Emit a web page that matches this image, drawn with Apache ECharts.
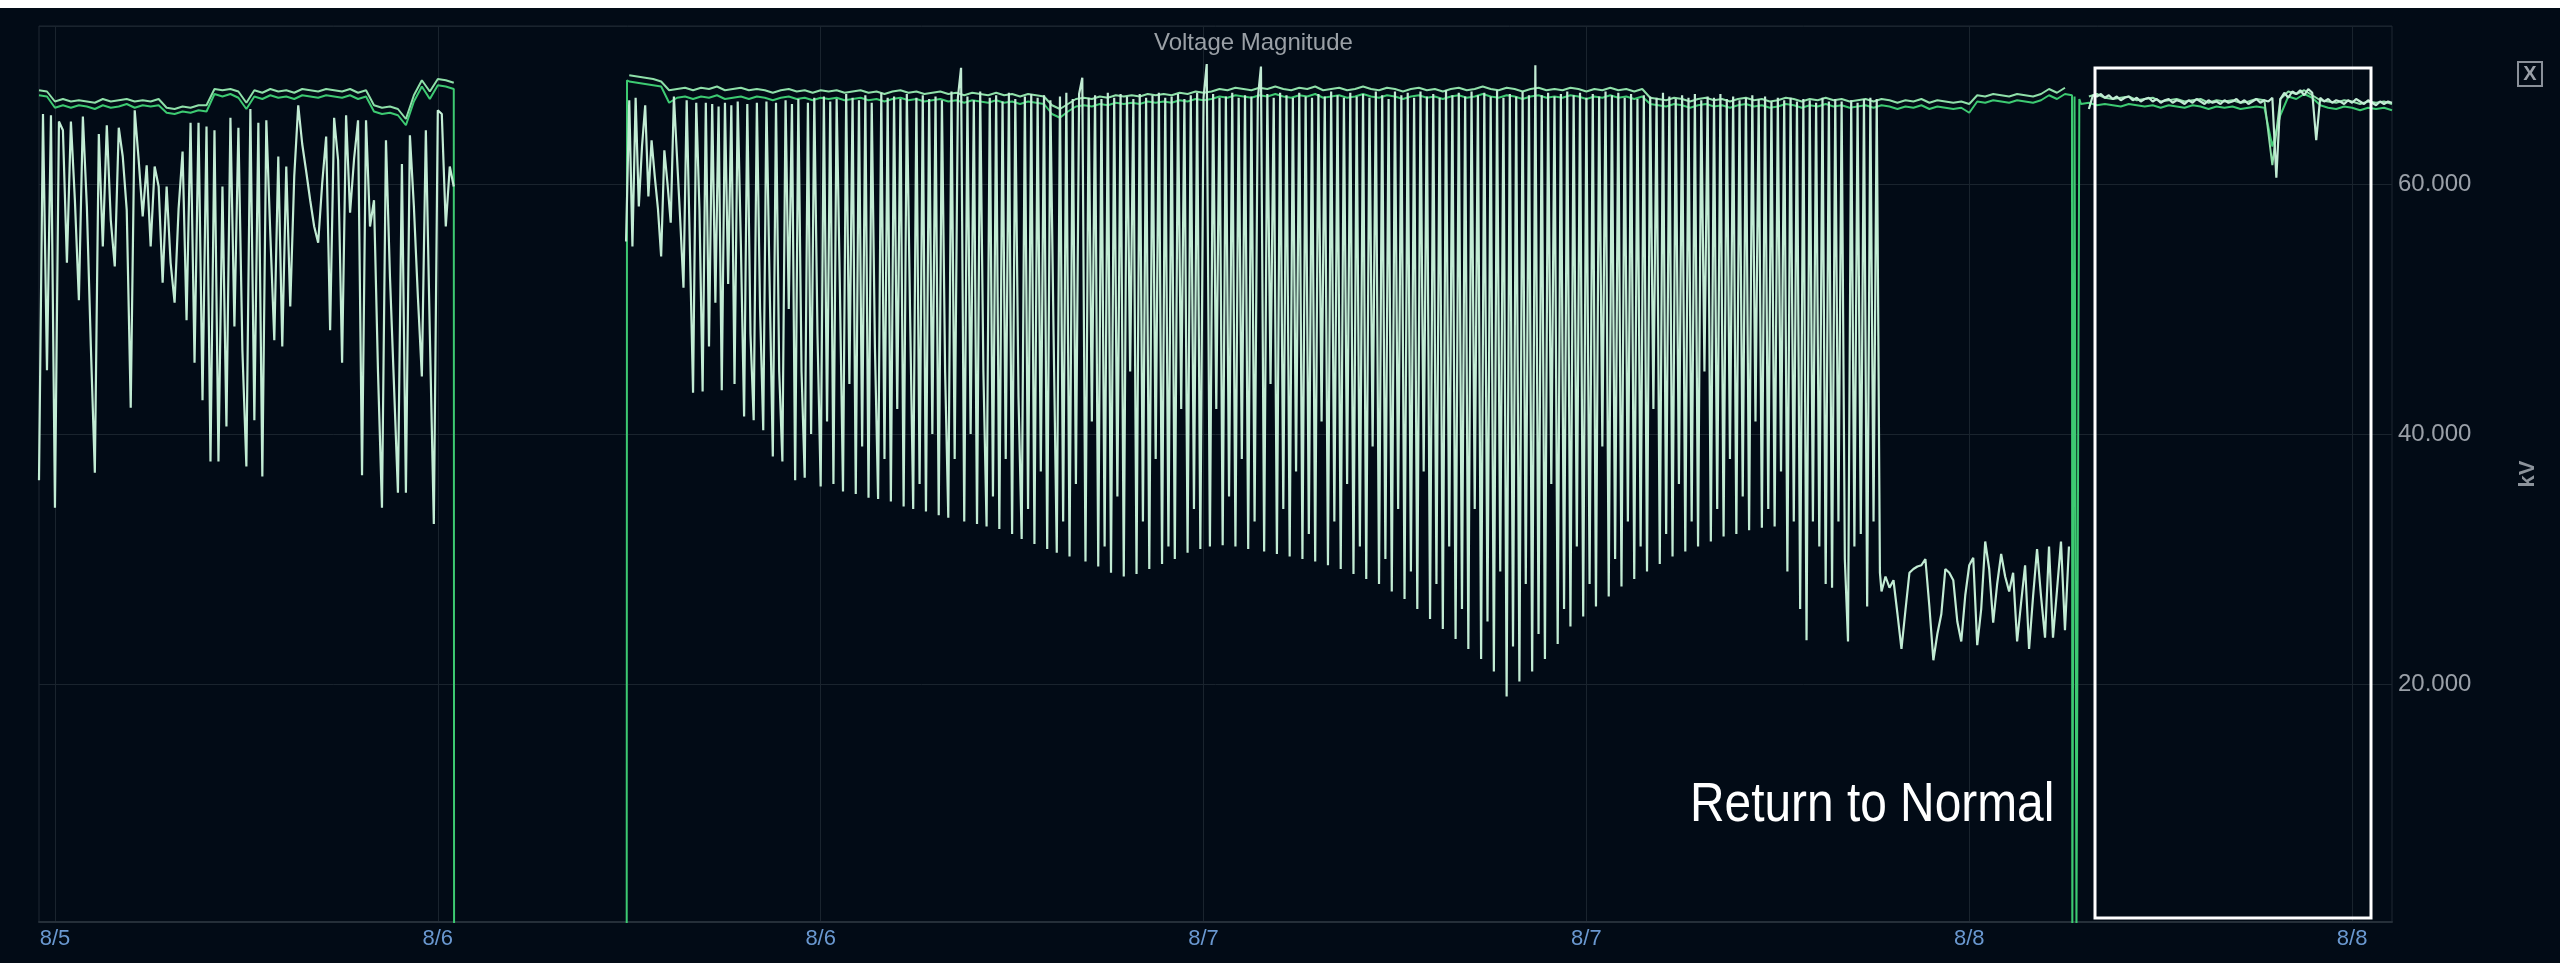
<!DOCTYPE html>
<html>
<head>
<meta charset="utf-8">
<title>Voltage Magnitude</title>
<script src="https://cdn.jsdelivr.net/npm/echarts@6/dist/echarts.min.js"></script>
<style>
html, body { margin: 0; padding: 0; background: #ffffff; }
#main { position: absolute; left: 0; top: 8px; width: 2560px; height: 955px; background: #020b16; }
</style>
</head>
<body>
<div id="main"></div>
<script>
// x is hours since 8/5 00:00; data starts 8/5 11:30
var startHour = 11.5;
var stepAB = 15; // minutes

// x axis ticks every 12 h (8/5 12:00 ... 8/8 12:00)
var xTickHours = [12, 24, 36, 48, 60, 72, 84];

// phase A (bright green, lower band line), null = outage
var phaseA = [
67.1,67.0,66.1,66.3,66.1,66.3,66.2,66.0,66.3,66.1,
66.2,66.4,66.1,66.3,66.2,66.3,65.7,65.6,65.8,65.7,
65.9,65.8,67.2,67.0,67.2,66.9,66.0,67.0,66.8,67.1,
66.9,67.0,66.8,67.1,67.0,66.9,67.1,67.0,66.9,67.1,
66.8,67.0,65.8,65.6,65.7,65.5,64.7,66.6,67.8,66.8,
67.9,67.8,67.6,null,null,null,null,null,null,null,
null,null,null,null,null,null,null,null,null,null,
null,null,null,null,68.2,68.1,68.0,67.9,67.8,66.5,
66.9,67.0,66.8,67.0,66.9,67.1,66.8,66.9,67.0,66.8,
67.0,66.9,66.7,66.9,67.0,66.8,66.9,66.7,66.9,66.8,
66.9,66.7,66.8,66.9,66.7,66.8,66.6,66.8,66.9,66.7,
66.8,66.6,66.7,66.8,66.6,66.7,66.5,66.7,66.6,66.5,
66.7,66.5,66.6,66.4,66.6,66.5,66.4,65.6,65.3,65.8,
66.2,66.3,66.2,66.4,66.3,66.5,66.4,66.5,66.4,66.6,
66.5,66.6,66.5,66.7,66.6,66.8,66.7,66.8,67.0,66.9,
67.1,67.0,66.9,67.1,67.0,67.2,67.0,66.9,67.1,67.0,
67.2,66.9,67.0,67.1,66.9,67.0,67.2,67.0,66.9,67.1,
67.0,66.8,67.0,67.1,66.9,67.0,66.8,67.0,67.1,66.9,
67.0,67.2,67.0,66.9,67.1,67.0,66.8,67.0,67.1,66.9,
67.0,66.9,67.1,67.0,66.8,67.0,66.9,67.1,66.9,67.0,
66.8,67.0,66.4,66.3,66.2,66.4,66.3,66.1,66.3,66.4,
66.2,66.3,66.1,66.3,66.4,66.2,66.3,66.1,66.2,66.4,
66.3,66.1,66.3,66.2,66.4,66.2,66.3,66.1,66.2,66.3,
66.1,66.3,66.2,66.0,66.2,66.1,66.3,66.0,66.2,66.1,
66.0,66.1,65.7,66.6,66.5,66.7,66.6,66.5,66.7,66.6,
66.5,66.7,67.1,66.8,67.2,0,66.4,66.5,66.3,66.4,
66.3,66.2,66.4,66.3,66.2,66.3,66.1,66.3,66.2,66.1,
66.3,66.2,66.0,66.2,66.1,66.2,66.0,66.1,66.2,66.1,
63.0,65.5,67.0,66.8,67.2,66.9,66.3,66.1,66.0,66.2,
66.1,65.9,66.1,66.0,66.1,65.9
];
// phase A outage edges: [hours after start, kV]
var phaseAEdges = [
	[13.01, 0], [18.42, 0], [18.43, 68.3],
	[63.72, 67.1], [63.73, 0], [63.80, 67.0], [63.86, 0], [63.95, 66.8]
];

// phase B (light green, upper band line)
var phaseB = [
67.5,67.4,66.6,66.8,66.6,66.7,66.6,66.5,66.8,66.6,
66.7,66.8,66.6,66.7,66.6,66.8,66.1,66.0,66.2,66.1,
66.3,66.3,67.6,67.5,67.6,67.4,66.5,67.5,67.3,67.6,
67.4,67.5,67.3,67.6,67.5,67.4,67.6,67.5,67.4,67.6,
67.3,67.5,66.3,66.1,66.2,66.0,65.2,67.1,68.3,67.4,
68.4,68.3,68.1,null,null,null,null,null,null,null,
null,null,null,null,null,null,null,null,null,null,
null,null,null,null,68.7,68.6,68.5,68.4,68.2,67.5,
67.6,67.7,67.5,67.7,67.6,67.8,67.5,67.6,67.7,67.5,
67.6,67.5,67.3,67.5,67.6,67.4,67.5,67.3,67.5,67.4,
67.5,67.3,67.4,67.5,67.3,67.4,67.2,67.4,67.5,67.3,
67.4,67.2,67.3,67.4,67.2,67.3,67.1,67.3,67.2,67.1,
67.3,67.1,67.2,67.0,67.2,67.1,67.0,66.3,66.0,66.4,
66.8,66.9,66.8,67.0,66.9,67.1,67.0,67.1,67.0,67.2,
67.1,67.2,67.1,67.3,67.2,67.4,67.3,67.4,67.6,67.5,
67.7,67.6,67.5,67.7,67.6,67.8,67.6,67.5,67.7,67.6,
67.8,67.5,67.6,67.7,67.5,67.6,67.8,67.6,67.5,67.7,
67.6,67.4,67.6,67.7,67.5,67.6,67.4,67.6,67.7,67.5,
67.6,67.8,67.6,67.5,67.7,67.6,67.4,67.6,67.7,67.5,
67.6,67.5,67.7,67.6,67.4,67.6,67.5,67.7,67.5,67.6,
67.4,67.6,66.9,66.8,66.7,66.9,66.8,66.6,66.8,66.9,
66.7,66.8,66.6,66.8,66.9,66.7,66.8,66.6,66.7,66.9,
66.8,66.6,66.8,66.7,66.9,66.7,66.8,66.6,66.7,66.8,
66.6,66.8,66.7,66.5,66.7,66.6,66.8,66.5,66.7,66.6,
66.5,66.6,66.4,67.1,67.0,67.2,67.1,67.0,67.2,67.1,
67.0,67.2,67.6,67.3,67.7,null,null,67.0,67.2,66.9,
66.8,66.9,67.0,66.7,66.8,66.9,66.6,66.7,66.8,66.6,
66.7,66.8,66.5,66.7,66.6,66.7,66.5,66.6,66.8,66.7,
61.5,66.8,67.4,67.2,67.5,67.1,66.7,66.6,66.5,66.7,
66.6,66.4,66.6,66.5,66.6,66.4
];

// phase C (mint) in four pieces: 8/5 11:30 every 7.5 min
var phaseC1 = [
36.3,65.6,45.1,65.5,34.1,65.0,64.3,53.7,65.0,58.7,
50.7,65.4,58.2,47.0,36.9,64.0,55.0,64.7,57.1,53.4,
64.5,62.2,57.9,42.1,65.9,61.9,57.4,61.5,55.0,61.4,
59.8,52.1,59.8,53.7,50.5,58.0,62.6,49.1,64.9,45.7,
64.9,42.7,64.6,37.8,64.3,37.8,59.8,40.6,65.3,48.6,
64.5,46.7,37.4,66.0,41.1,64.9,36.6,65.1,56.0,47.5,
62.2,47.0,61.4,50.2,60.6,66.3,63.2,61.0,58.7,56.6,
55.3,60.0,63.8,48.3,65.3,61.9,45.7,65.5,57.7,62.0,
65.1,36.7,65.1,56.6,58.7,45.0,34.1,63.5,52.6,44.0,
35.3,61.6,35.3,63.9,58.2,51.0,44.6,64.3,48.0,32.8,
65.9,65.6,56.6,61.4,59.8
];
// 8/6 05:54 every 6 min (heavy oscillation)
var phaseC2 = [
55.4,66.7,55.0,66.9,58.2,63.0,66.3,59.0,63.5,60.6,
58.0,54.2,62.7,60.0,56.9,67.0,62.0,57.0,51.7,66.7,
55.0,43.3,66.5,58.0,43.4,66.5,47.0,66.4,50.5,66.2,
43.5,66.5,52.0,66.3,44.0,66.6,55.0,41.4,66.4,48.0,
41.1,66.5,50.0,40.3,66.6,52.0,38.2,66.5,45.0,37.8,
66.7,50.0,66.4,36.3,66.8,45.0,36.5,66.5,40.0,66.9,
48.0,35.8,67.0,41.0,66.6,36.0,66.8,52.0,35.4,67.2,
44.0,66.9,35.2,66.7,39.0,67.1,34.9,66.5,47.0,34.8,
67.3,38.0,66.9,34.6,67.0,42.0,66.8,34.2,67.2,50.0,
34.0,66.9,36.0,67.1,33.8,66.8,40.0,67.0,33.5,66.7,
45.0,33.3,67.4,38.0,66.9,69.3,33.0,67.0,40.0,66.7,
32.8,67.4,45.0,32.6,66.9,35.0,67.1,32.4,66.6,38.0,
67.3,32.0,66.8,43.0,31.6,67.0,34.0,67.2,31.2,66.9,
37.0,67.1,30.8,66.7,48.0,30.5,67.0,33.0,67.3,30.2,
66.8,36.0,67.2,68.5,29.8,66.9,41.0,67.1,29.4,66.8,
31.0,67.3,28.9,66.9,35.0,67.2,28.6,67.0,45.0,66.8,
28.8,67.2,33.0,66.9,29.2,67.1,38.0,67.3,29.6,66.9,
31.0,67.0,30.0,67.2,42.0,66.8,30.5,67.1,34.0,67.3,
30.8,66.9,69.6,31.0,67.2,42.0,66.9,31.1,67.0,35.0,
67.3,31.0,66.9,38.0,67.1,30.8,67.0,33.0,66.8,69.4,
30.6,67.2,44.0,66.9,30.4,67.3,34.0,67.1,30.2,66.9,
37.0,67.3,30.0,67.0,32.0,66.9,29.8,67.2,41.0,67.0,
29.5,67.4,33.0,67.1,29.2,66.9,36.0,67.3,28.8,67.0,
31.0,67.2,28.4,66.9,39.0,67.4,28.0,67.1,30.0,66.8,
27.4,67.4,34.0,67.1,26.8,67.3,29.0,66.9,26.0,67.4,
37.0,67.0,25.2,67.2,28.0,66.9,24.4,67.5,31.0,67.1,
23.6,67.3,26.0,67.0,22.8,67.4,34.0,67.1,22.0,67.3,
25.0,67.0,21.0,67.5,29.0,66.9,19.0,67.2,23.0,67.0,
20.2,67.4,28.0,67.1,21.0,69.5,24.0,67.1,22.0,67.3,
36.0,67.0,23.2,67.2,26.0,67.4,24.6,67.1,31.0,67.3,
25.4,66.9,28.0,67.2,26.2,67.0,39.0,67.4,27.0,67.1,
30.0,67.3,27.8,66.9,33.0,67.2,28.4,66.8,31.0,67.1,
29.0,67.0,42.0,66.9,29.6,67.3,32.0,67.0,30.2,66.8,
36.0,67.1,30.6,66.9,33.0,67.2,31.0,66.7,45.0,67.0,
31.4,66.9,34.0,67.2,31.8,66.8,38.0,67.0,32.0,66.7,
35.0,66.9,32.3,67.1,41.0,66.8,32.5,67.0,34.0,66.6,
32.6,66.9,37.0,66.7,29.0,66.9,33.0,66.6,26.0,66.8,
23.5,66.7,33.0,66.5,31.0,66.9,28.0,66.6,27.7,66.8,
33.0,66.6,30.0,23.4,66.7,31.0,66.5,32.0,66.8,26.2,
66.9,33.0,66.8,28.9
];
// 8/7 21:15 every 7.5 min (low level)
var phaseC3 = [
27.4,28.6,27.7,28.3,25.6,22.8,25.9,28.9,
29.2,29.4,29.5,30.0,26.2,21.9,24.0,25.6,29.2,28.9,
28.3,25.0,23.4,27.1,29.5,30.1,23.1,26.0,31.4,29.2,
24.9,28.0,30.4,28.6,27.4,28.9,23.4,26.5,29.5,22.8,
27.0,30.8,27.0,23.7,31.0,23.7,27.5,31.4,24.3,31.0
];
// 8/8 03:45 every 7.5 min (returned to normal)
var phaseC4 = [
66.0,67.1,67.0,67.2,66.9,67.1,
66.8,67.0,66.7,66.9,67.0,66.7,66.9,66.6,66.8,66.9,
66.6,66.8,66.5,66.7,66.8,66.5,66.7,66.6,66.4,66.7,
66.5,66.8,66.6,66.4,66.7,66.5,66.6,66.4,66.7,66.5,
66.6,66.8,66.5,66.7,66.4,66.6,66.8,66.5,66.7,66.6,
66.9,60.5,66.8,67.3,66.9,67.4,67.2,67.5,67.1,67.6,
67.3,63.5,66.9,66.6,66.8,66.5,66.7,66.6,66.4,66.7,
66.5,66.8,66.6,66.4,66.7,66.5,66.3,66.6,66.4,66.6,
66.5
];

// y axis range (kV)
var yMin = 0.96;
var yMax = 72.64;

// values -> [hour, value]; offset = hours after data start, step in minutes
function toSeries(values, offset, stepMin) {
	var out = [];
	for (var i = 0; i < values.length; i++) {
		out.push([startHour + offset + i * stepMin / 60, values[i]]);
	}
	return out;
}

// A series: regular samples plus the outage edges, sorted by time
var dataA = toSeries(phaseA, 0, stepAB);
for (var k = 0; k < phaseAEdges.length; k++) {
	dataA.push([startHour + phaseAEdges[k][0], phaseAEdges[k][1]]);
}
dataA.sort(function (a, b) { return a[0] - b[0]; });

// C series: pieces joined, null where there is no data
var dataC = [].concat(
	toSeries(phaseC1, 0, 7.5),
	[[startHour + 15, null]],
	toSeries(phaseC2, 18.4, 6),
	toSeries(phaseC3, 57.75, 7.5),
	[[startHour + 64, null]],
	toSeries(phaseC4, 64.25, 7.5)
);

var myChart = echarts.init(document.getElementById('main'));
myChart.setOption({
	backgroundColor: '#020b16',
	animation: false,
	title: {
		text: 'Voltage Magnitude',
		left: 1154,
		top: 23,
		padding: 0,
		textStyle: { color: '#9aa0a6', fontSize: 24, fontWeight: 'normal', fontFamily: 'Liberation Sans' }
	},
	grid: {
		left: 39, right: 168, top: 18, bottom: 41,
		show: true,
		borderColor: '#1f2932',
		borderWidth: 1
	},
	xAxis: {
		type: 'value',
		min: startHour,
		max: startHour + 73.75,
		axisLine: { show: true, lineStyle: { color: '#252f39', width: 2 } },
		axisTick: { show: false, customValues: xTickHours },
		splitLine: { show: true, lineStyle: { color: '#1a242e', width: 1 } },
		axisLabel: {
			customValues: xTickHours,
			color: '#6a98d0',
			fontSize: 22,
			fontFamily: 'Liberation Sans',
			margin: 6,
			formatter: function (v) {
				return '8/' + (5 + Math.floor(v / 24));
			}
		}
	},
	yAxis: {
		type: 'value',
		position: 'right',
		min: yMin,
		max: yMax,
		splitNumber: 4,
		axisLine: { show: false },
		axisTick: { show: false },
		splitLine: { show: true, lineStyle: { color: '#1a242e', width: 1 } },
		axisLabel: {
			color: '#9aa0a8',
			fontSize: 24,
			fontFamily: 'Liberation Sans',
			margin: 6,
			showMinLabel: false,
			showMaxLabel: false,
			formatter: function (v) { return v.toFixed(3); }
		},
		name: 'kV',
		nameLocation: 'middle',
		nameGap: 125,
		nameTextStyle: { color: '#8c939b', fontSize: 22, fontWeight: 'bold', fontFamily: 'Liberation Sans' }
	},
	series: [
		{
			name: 'Phase A',
			type: 'line',
			data: dataA,
			showSymbol: false,
			lineStyle: { color: '#3dca72', width: 2 },
			itemStyle: { color: '#3dca72' }
		},
		{
			name: 'Phase B',
			type: 'line',
			data: toSeries(phaseB, 0, stepAB),
			showSymbol: false,
			lineStyle: { color: '#8fe0a9', width: 2 },
			itemStyle: { color: '#8fe0a9' }
		},
		{
			name: 'Phase C',
			type: 'line',
			data: dataC,
			showSymbol: false,
			lineStyle: { color: '#c2ecd4', width: 2.2 },
			itemStyle: { color: '#c2ecd4' }
		}
	],
	graphic: [
		{
			type: 'rect',
			shape: { x: 2095, y: 60, width: 276, height: 850 },
			style: { fill: 'none', stroke: '#ffffff', lineWidth: 3 },
			z: 100
		},
		{
			type: 'text',
			x: 1690,
			y: 770,
			scaleX: 0.87,
			style: { text: 'Return to Normal', fill: '#ffffff', font: '55px "Liberation Sans"', verticalAlign: 'top' },
			z: 100
		},
		{
			type: 'rect',
			shape: { x: 2518, y: 54, width: 24, height: 24 },
			style: { fill: 'none', stroke: '#8a9099', lineWidth: 2 },
			z: 100
		},
		{
			type: 'text',
			x: 2530,
			y: 66,
			style: { text: 'X', fill: '#9aa0a8', font: 'bold 20px "Liberation Sans"', align: 'center', verticalAlign: 'middle' },
			z: 100
		}
	]
});
</script>
</body>
</html>
